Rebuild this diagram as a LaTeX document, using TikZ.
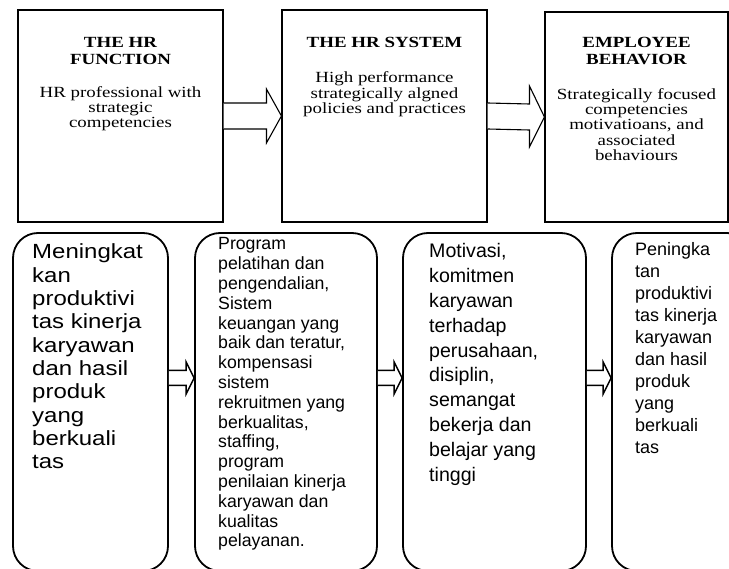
\documentclass[tikz,border=0pt]{standalone}
\usepackage{fontspec}
\setmainfont{Liberation Serif}
\newfontfamily\arialf{Liberation Sans}
\usepackage{graphicx}
\usetikzlibrary{calc}
\newcommand\tcell[3]{\scalebox{#1}[1]{\begin{tabular}[t]{@{}#2@{}}#3\end{tabular}}}
\begin{document}
\begin{tikzpicture}[x=1pt,y=-1pt,
  topbox/.style={draw=black, line width=1.1pt, fill=white, inner sep=0pt},
  botbox/.style={draw=black, line width=1.8pt, fill=white, rounded corners=25pt, inner sep=0pt},
  barrow/.style={draw=black, line width=1.1pt, fill=white, line join=miter},
  sarrow/.style={draw=black, line width=1.5pt, fill=white, line join=miter},
  ttl/.style={anchor=base, inner sep=0pt, font=\fontsize{15.5}{16.5}\selectfont\bfseries},
  tbody/.style={anchor=base, inner sep=0pt, font=\fontsize{15.5}{14.8}\selectfont},
  btext/.style={anchor=base west, inner sep=0pt}]
\useasboundingbox (0,0) rectangle (729,569);
\fill[white] (0,0) rectangle (729,569);
\clip (0,0) rectangle (729,569);

% top boxes
\node[topbox, minimum width=205pt, minimum height=212pt] (f1) at (120.5,116) {};
\node[topbox, minimum width=205pt, minimum height=212pt] (f2) at (384.5,116) {};
\node[topbox, minimum width=183pt, minimum height=210pt] (f3) at (636.5,117) {};

% top block arrows
\draw[barrow] ([yshift=13pt]f1.east) -- ([xshift=-15pt,yshift=13pt]f2.west)
  -- ([xshift=-15pt,yshift=27pt]f2.west) -- (f2.west)
  -- ([xshift=-15pt,yshift=-27pt]f2.west) -- ([xshift=-15pt,yshift=-13pt]f2.west)
  -- ([yshift=-13pt]f1.east);
\draw[barrow] ([yshift=13pt]f2.east) -- ([xshift=-15pt,yshift=13pt]f3.west)
  -- ([xshift=-15pt,yshift=31pt]f3.west) -- (f3.west)
  -- ([xshift=-15pt,yshift=-30pt]f3.west) -- ([xshift=-15pt,yshift=-13pt]f3.west)
  -- ([yshift=-13pt]f2.east);

% top texts
\node[ttl] (t1) at (120.5,48) {\tcell{1.22}{c}{THE HR\\FUNCTION}};
\node[tbody] (b1) at (120.5,98) {\tcell{1.22}{c}{HR professional with\\strategic\\competencies}};
\node[ttl] (t2) at (384.5,48) {\tcell{1.22}{c}{THE HR SYSTEM}};
\node[tbody] (b2) at (384.5,83) {\tcell{1.22}{c}{High performance\\strategically algned\\policies and practices}};
\node[ttl] (t3) at (636.5,48) {\tcell{1.22}{c}{EMPLOYEE\\BEHAVIOR}};
\node[tbody] (b3) at (636.5,100) {\tcell{1.22}{c}{Strategically focused\\competencies\\motivatioans, and\\associated\\behaviours}};

% bottom boxes
\node[botbox, minimum width=155pt, minimum height=338pt] (a) at (90.5,402) {};
\node[botbox, minimum width=182pt, minimum height=338pt] (b) at (286,402) {};
\node[botbox, minimum width=183pt, minimum height=338pt] (c) at (494.5,402) {};
\node[botbox, minimum width=140pt, minimum height=338pt] (d) at (682,402) {};

% bottom arrows
\coordinate (ay) at (0,378);
\foreach \p/\q in {a/b,b/c,c/d}{
  \draw[sarrow] ($(\p.east |- ay)+(0,-7.5)$) -- ($(\q.west |- ay)+(-8,-7.5)$)
    -- ($(\q.west |- ay)+(-8,-16)$) -- (\q.west |- ay)
    -- ($(\q.west |- ay)+(-8,16)$) -- ($(\q.west |- ay)+(-8,7.5)$)
    -- ($(\p.east |- ay)+(0,7.5)$);
}

% bottom texts
\node[btext, font=\arialf\fontsize{20.5}{23.3}\selectfont] (ta) at (32,259)
  {\tcell{1.17}{l}{Meningkat\\kan\\produktivi\\tas kinerja\\karyawan\\dan hasil\\produk\\yang\\berkuali\\tas}};
\node[btext, font=\arialf\fontsize{17.7}{19.8}\selectfont] (tb) at (218,250)
  {\tcell{1}{l}{Program\\pelatihan dan\\pengendalian,\\Sistem\\keuangan yang\\baik dan teratur,\\kompensasi\\sistem\\rekruitmen yang\\berkualitas,\\staffing,\\program\\penilaian kinerja\\karyawan dan\\kualitas\\pelayanan.}};
\node[btext, font=\arialf\fontsize{19.6}{24.8}\selectfont] (tc) at (429,258)
  {\tcell{1}{l}{Motivasi,\\komitmen\\karyawan\\terhadap\\perusahaan,\\disiplin,\\semangat\\bekerja dan\\belajar yang\\tinggi}};
\node[btext, font=\arialf\fontsize{18}{22}\selectfont] (td) at (635,256)
  {\tcell{1}{l}{Peningka\\tan\\produktivi\\tas kinerja\\karyawan\\dan hasil\\produk\\yang\\berkuali\\tas}};
\end{tikzpicture}
\end{document}
